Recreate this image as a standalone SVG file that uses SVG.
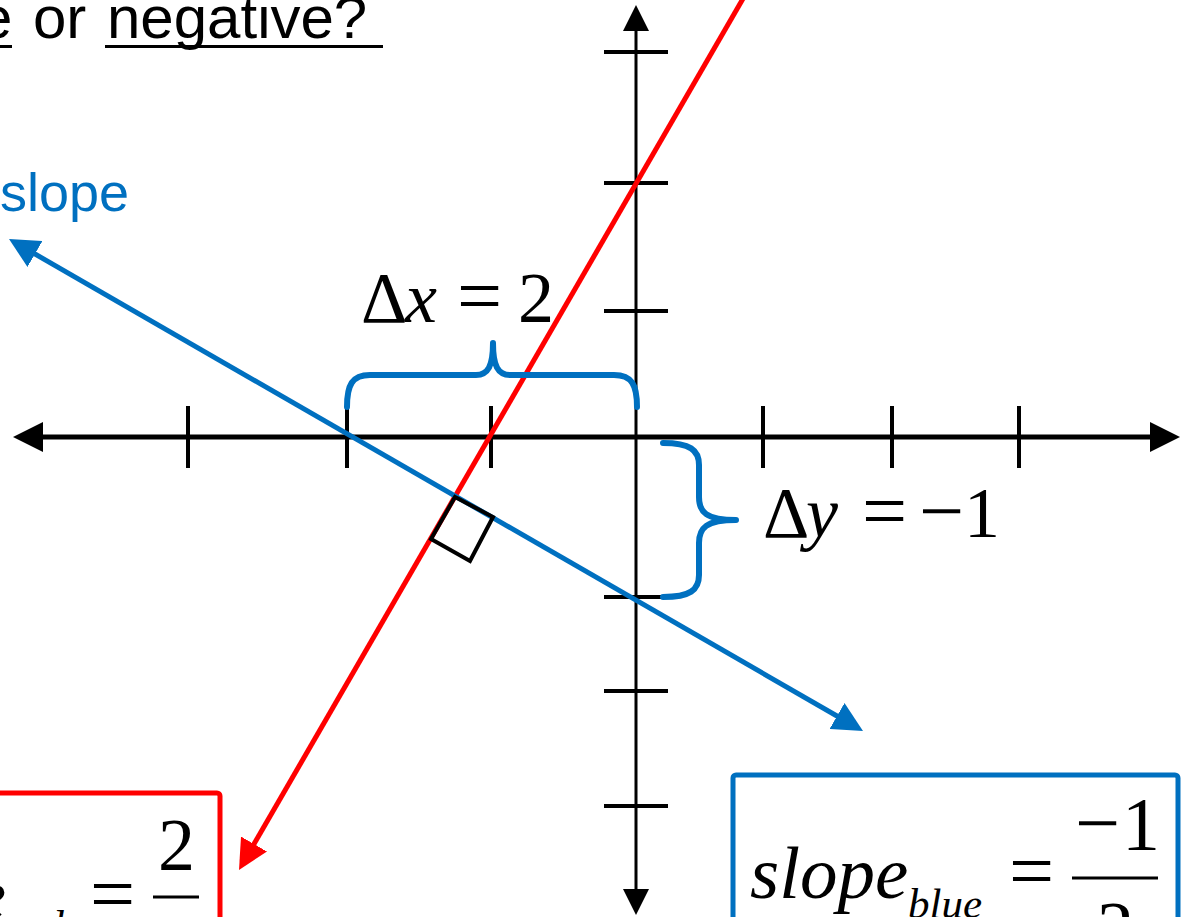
<svg xmlns="http://www.w3.org/2000/svg" width="1187" height="917" viewBox="0 0 1187 917">
<style>
.sans{font-family:"Liberation Sans",Arial,sans-serif}
.serif{font-family:"Liberation Serif","Times New Roman",serif}
.it{font-style:italic}
.op{font-size:80px}
.tick{stroke:#000;stroke-width:4;fill:none}
.brace{stroke:#0070C0;stroke-width:6;fill:none;stroke-linecap:round;stroke-linejoin:round}
</style>
<defs>
<marker id="ahBlack" markerUnits="userSpaceOnUse" markerWidth="30" markerHeight="30" refX="15" refY="15" orient="auto-start-reverse" viewBox="0 0 30 30"><path d="M0,0 L30,15 L0,30 Z" fill="#000"/></marker>
<marker id="ahSmall" markerUnits="userSpaceOnUse" markerWidth="26" markerHeight="26" refX="13" refY="13" orient="auto-start-reverse" viewBox="0 0 26 26"><path d="M0,0 L26,13 L0,26 Z" fill="#000"/></marker>
<marker id="ahBlue" markerUnits="userSpaceOnUse" markerWidth="30" markerHeight="30" refX="15" refY="15" orient="auto-start-reverse" viewBox="0 0 30 30"><path d="M0,0 L30,15 L0,30 Z" fill="#0070C0"/></marker>
<marker id="ahRed" markerUnits="userSpaceOnUse" markerWidth="30" markerHeight="30" refX="15" refY="15" orient="auto-start-reverse" viewBox="0 0 30 30"><path d="M0,0 L30,15 L0,30 Z" fill="#FF0000"/></marker>
</defs>
<rect width="1187" height="917" fill="#fff"/>

<g id="title">
<text class="sans" font-size="60" y="38"><tspan x="-21">e</tspan><tspan x="33">or</tspan><tspan x="107">negative?</tspan></text>
<line x1="0" y1="46.5" x2="12" y2="46.5" stroke="#000" stroke-width="3"/>
<line x1="105" y1="46.5" x2="383" y2="46.5" stroke="#000" stroke-width="3"/>
</g>

<g id="blue-label">
<text class="sans" font-size="54" fill="#0070C0" x="129" y="211" text-anchor="end">slope</text>
</g>

<g id="axes">
<line x1="28" y1="437" x2="1165" y2="437" stroke="#000" stroke-width="5" marker-start="url(#ahBlack)" marker-end="url(#ahBlack)"/>
<line x1="636" y1="18" x2="636" y2="902" stroke="#000" stroke-width="3" marker-start="url(#ahSmall)" marker-end="url(#ahSmall)"/>
<g class="tick">
<line x1="188" y1="406" x2="188" y2="468"/>
<line x1="347" y1="406" x2="347" y2="468"/>
<line x1="491" y1="406" x2="491" y2="468"/>
<line x1="763" y1="406" x2="763" y2="468"/>
<line x1="892" y1="406" x2="892" y2="468"/>
<line x1="1019" y1="406" x2="1019" y2="468"/>
<line x1="604" y1="52" x2="668" y2="52"/>
<line x1="604" y1="183" x2="668" y2="183"/>
<line x1="604" y1="311" x2="668" y2="311"/>
<line x1="604" y1="597" x2="668" y2="597"/>
<line x1="604" y1="691" x2="668" y2="691"/>
<line x1="604" y1="806" x2="668" y2="806"/>
</g>
</g>

<g id="connectors">
<line id="red-line" x1="748" y1="-10" x2="246.5" y2="857" stroke="#FF0000" stroke-width="5" marker-end="url(#ahRed)"/>
<line id="blue-line" x1="22" y1="246.5" x2="850" y2="723.5" stroke="#0070C0" stroke-width="5" marker-start="url(#ahBlue)" marker-end="url(#ahBlue)"/>
</g>

<g id="right-angle">
<polygon points="455,497 493,517 470,561 431,539" fill="none" stroke="#000" stroke-width="4" stroke-linejoin="miter"/>
</g>

<g id="dx">
<path class="brace" d="M347,407 C347,385 352,375 370,375 L476,375 C488,375 493,366 493,343 C493,366 498,375 510,375 L614,375 C632,375 637,385 637,407"/>
<text class="serif" font-size="72" y="322"><tspan x="361">Δ</tspan><tspan class="it" x="405">x</tspan><tspan class="op" x="457" y="323">=</tspan><tspan x="518" y="322">2</tspan></text>
</g>

<g id="dy">
<path class="brace" d="M663,443 C690,443 699,450 699,465 L699,497 C699,512 706,520 736,520 C706,520 699,528 699,543 L699,575 C699,590 690,597 663,597"/>
<text class="serif" font-size="72" y="537"><tspan x="763">Δ</tspan><tspan class="it" x="806">y</tspan><tspan class="op" x="862" y="538">=</tspan><tspan class="op" x="919" y="538">−</tspan><tspan x="964" y="537">1</tspan></text>
</g>

<g id="red-box">
<rect x="-20" y="793" width="240" height="200" rx="3" fill="none" stroke="#FF0000" stroke-width="5"/>
<text class="serif it" font-size="75" x="6" y="920" text-anchor="end">slope</text>
<text class="serif it" font-size="43" x="8" y="940">red</text>
<text class="serif op" x="90" y="921">=</text>
<text class="serif" font-size="74" x="158" y="870">2</text>
<line x1="153" y1="897" x2="199" y2="897" stroke="#000" stroke-width="3"/>
</g>

<g id="blue-box">
<rect x="733" y="775" width="445" height="200" rx="3" fill="none" stroke="#0070C0" stroke-width="5"/>
<text class="serif it" font-size="75" x="750" y="898">slope</text>
<text class="serif it" font-size="43" x="908" y="918">blue</text>
<text class="serif op" x="1009" y="898">=</text>
<text class="serif" y="850"><tspan class="op" x="1075">−</tspan><tspan font-size="76" x="1122">1</tspan></text>
<line x1="1072" y1="878" x2="1158" y2="878" stroke="#000" stroke-width="3"/>
<text class="serif" font-size="74" x="1097" y="953">2</text>
</g>
</svg>
